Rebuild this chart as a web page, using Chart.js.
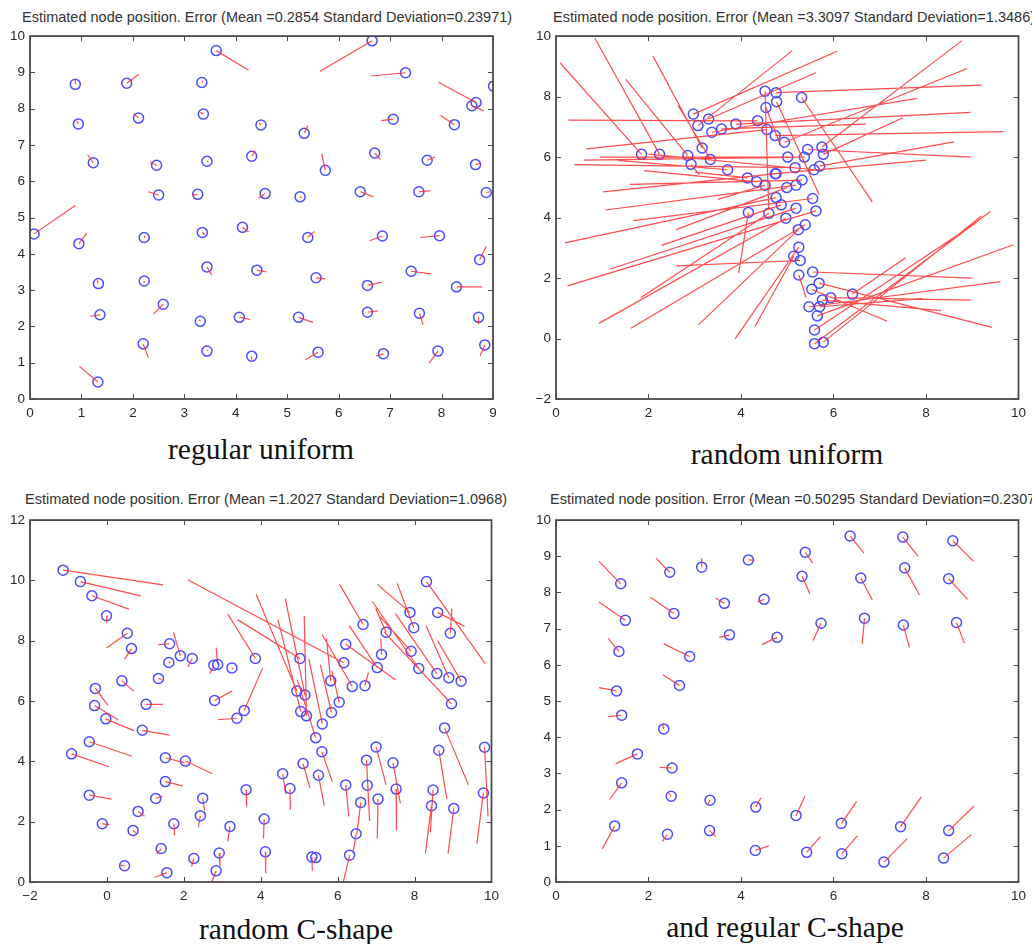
<!DOCTYPE html>
<html>
<head>
<meta charset="utf-8">
<script src="https://cdn.jsdelivr.net/npm/chart.js@4.4.0/dist/chart.umd.min.js"></script>
<style>
  body { margin: 0; background: #fff; width: 1032px; height: 944px; position: relative; overflow: hidden; }
  canvas { position: absolute; }
  .ttl { position: absolute; font-family: "Liberation Sans", Arial, sans-serif; font-size: 14.5px; color: #333; white-space: nowrap; line-height: 15px; }
  .cap { position: absolute; font-family: "Liberation Serif", "Times New Roman", serif; font-size: 29.5px; color: #111; white-space: nowrap; line-height: 30px; transform: translateX(-50%); }
</style>
</head>
<body>

<div class="ttl" id="t1" style="left:22px;top:10px">Estimated node position. Error (Mean =0.2854 Standard Deviation=0.23971)</div>
<div class="ttl" id="t2" style="left:553px;top:10px">Estimated node position. Error (Mean =3.3097 Standard Deviation=1.3486)</div>
<div class="ttl" id="t3" style="left:25px;top:492px">Estimated node position. Error (Mean =1.2027 Standard Deviation=1.0968)</div>
<div class="ttl" id="t4" style="left:550px;top:492px">Estimated node position. Error (Mean =0.50295 Standard Deviation=0.2307)</div>

<canvas id="c1" width="505" height="398" style="left:0px;top:23px"></canvas>
<canvas id="c2" width="506" height="398" style="left:526px;top:23px"></canvas>
<canvas id="c3" width="505" height="397" style="left:0px;top:507px"></canvas>
<canvas id="c4" width="506" height="397" style="left:526px;top:507px"></canvas>

<div class="cap" style="left:261px;top:434px">regular uniform</div>
<div class="cap" style="left:787px;top:439px">random uniform</div>
<div class="cap" style="left:296px;top:914px">random C-shape</div>
<div class="cap" style="left:785px;top:912px">and regular C-shape</div>

<script>
// ===============================
// DONNEES (noeud estimé -> position réelle)
// ===============================

// axes : [min, max, pas]
const regX = [0, 9, 1],  regY = [0, 10, 1];
const randX = [0, 10, 2], randY = [-2, 10, 2];
const randCX = [-2, 10, 2], randCY = [0, 12, 2];
const regCX = [0, 10, 2], regCY = [0, 10, 1];

// regular uniform
const regNodes = [
  [0.88,8.67],[1.88,8.70],[3.34,8.72],[3.62,9.60],[0.94,7.58],[2.11,7.74],[3.37,7.85],[1.23,6.51],
  [2.46,6.44],[3.44,6.55],[4.31,6.69],[2.50,5.62],[3.26,5.64],[4.49,7.55],[6.65,9.87],[7.30,8.99],
  [9.01,8.62],[8.67,8.17],[8.59,8.08],[5.33,7.32],[7.06,7.71],[8.25,7.56],[6.70,6.78],[5.74,6.30],
  [7.72,6.58],[8.66,6.46],[4.57,5.66],[5.25,5.57],[6.42,5.71],[7.56,5.71],[8.87,5.69],[0.08,4.55],
  [0.95,4.28],[2.22,4.45],[3.35,4.59],[4.13,4.73],[1.33,3.18],[2.22,3.25],[3.44,3.64],[4.41,3.55],
  [1.36,2.32],[2.59,2.61],[3.31,2.14],[4.07,2.25],[2.20,1.52],[3.44,1.32],[4.31,1.18],[1.32,0.47],
  [5.40,4.45],[6.85,4.49],[7.96,4.50],[8.74,3.84],[5.56,3.34],[6.56,3.13],[7.41,3.52],[8.29,3.09],
  [5.22,2.25],[6.56,2.39],[7.57,2.36],[8.72,2.25],[5.60,1.29],[6.87,1.25],[7.93,1.32],[8.84,1.49]
];
const regEnds = [
  [0.88,8.79],[2.11,8.94],[3.36,8.76],[4.25,9.06],[0.91,7.67],[2.01,7.87],[3.31,7.90],[1.12,6.73],
  [2.33,6.53],[3.47,6.53],[4.38,6.85],[2.30,5.71],[3.15,5.62],[4.45,7.60],[5.64,9.03],[6.63,8.90],
  [9.00,8.66],[7.94,8.73],[8.82,7.94],[5.40,7.53],[6.83,7.67],[7.98,7.81],[6.81,6.60],[5.67,6.76],
  [7.88,6.67],[8.75,6.49],[4.44,5.53],[5.28,5.55],[6.68,5.57],[7.78,5.74],[8.94,5.71],[0.88,5.33],
  [1.10,4.57],[2.23,4.50],[3.40,4.52],[4.25,4.60],[1.30,3.27],[2.22,3.20],[3.53,3.42],[4.60,3.50],
  [1.17,2.28],[2.40,2.34],[3.29,2.18],[4.28,2.19],[2.30,1.14],[3.45,1.35],[4.31,1.08],[0.96,0.90],
  [5.53,4.62],[6.60,4.36],[7.59,4.45],[8.87,4.21],[5.74,3.31],[6.84,3.22],[7.80,3.45],[8.79,3.09],
  [5.50,2.11],[6.76,2.43],[7.64,2.05],[8.72,2.05],[5.35,1.08],[6.73,1.18],[7.76,0.99],[8.75,1.19]
];

// random uniform
const randNodes = [
  [1.85,6.09],[2.24,6.09],[2.85,6.05],[2.92,5.76],[3.16,6.30],[3.34,5.92],[3.71,5.58],[2.97,7.42],
  [3.07,7.04],[3.30,7.26],[3.37,6.82],[3.58,6.93],[3.89,7.09],[4.36,7.20],[4.52,8.18],[4.54,7.64],
  [4.56,6.91],[4.74,6.71],[4.76,8.13],[4.77,7.83],[5.31,7.97],[4.94,6.49],[5.01,6.00],[5.44,6.25],
  [5.37,6.00],[5.75,6.33],[5.78,6.09],[5.17,5.65],[5.58,5.58],[5.70,5.70],[4.76,5.45],[5.32,5.24],
  [5.19,5.07],[4.99,4.99],[5.55,4.63],[4.76,4.66],[4.87,4.42],[5.19,4.31],[5.62,4.22],[4.14,5.31],
  [4.34,5.18],[4.52,5.07],[4.74,5.45],[4.16,4.17],[4.60,4.14],[4.97,3.98],[5.39,3.76],[5.24,3.60],
  [5.25,3.02],[5.14,2.72],[5.28,2.58],[5.25,2.10],[5.55,2.20],[5.69,1.83],[5.53,1.63],[5.76,1.27],
  [5.94,1.35],[6.41,1.47],[5.47,1.05],[5.70,1.05],[5.65,0.75],[5.59,0.28],[5.59,-0.17],[5.78,-0.12]
];
const randEnds = [
  [0.09,9.11],[0.84,9.93],[1.51,8.57],[3.10,5.42],[2.10,9.33],[2.64,7.71],[1.34,5.89],[6.08,9.50],
  [5.11,9.52],[5.62,8.79],[7.81,7.94],[6.70,7.09],[8.96,7.48],[0.27,7.22],[4.60,4.30],[4.85,6.40],
  [0.66,6.27],[9.68,6.84],[9.21,8.38],[5.69,4.75],[6.84,4.52],[8.89,8.93],[0.95,6.00],[8.98,6.00],
  [0.60,5.90],[8.78,9.85],[7.50,7.30],[0.40,5.75],[2.00,6.10],[8.60,6.50],[1.02,4.85],[1.60,5.10],
  [1.07,4.25],[2.60,3.60],[1.67,3.90],[0.19,3.16],[2.28,3.08],[1.16,2.29],[0.25,1.74],[3.00,5.50],
  [1.90,5.55],[3.50,4.60],[8.00,5.90],[3.95,2.17],[1.83,1.35],[0.93,0.50],[1.62,0.34],[3.08,0.45],
  [3.87,-0.01],[4.30,0.39],[2.60,2.40],[5.41,1.35],[9.00,2.00],[9.43,0.37],[7.16,0.57],[8.33,0.92],
  [8.98,1.27],[7.56,2.67],[9.61,1.88],[7.92,1.32],[9.89,3.10],[9.07,3.81],[9.39,4.20],[9.20,4.05]
];

// random C-shape
const randCNodes = [
  [-1.14,10.34],[-0.69,9.96],[-0.39,9.49],[-0.01,8.83],[0.53,8.25],[0.64,7.74],[1.63,7.90],[1.61,7.28],
  [1.91,7.50],[2.22,7.41],[2.78,7.19],[2.88,7.21],[3.25,7.10],[3.86,7.41],[0.39,6.67],[1.34,6.75],
  [-0.30,6.42],[-0.32,5.85],[-0.03,5.41],[1.02,5.89],[0.92,5.03],[-0.46,4.65],[-0.92,4.25],[1.52,4.12],
  [2.04,4.01],[1.52,3.33],[-0.46,2.88],[1.27,2.77],[0.81,2.34],[-0.12,1.93],[0.68,1.71],[1.74,1.93],
  [2.49,2.78],[2.43,2.20],[3.20,1.84],[3.62,3.06],[4.09,2.09],[1.41,1.11],[0.46,0.54],[1.56,0.31],
  [2.26,0.78],[2.92,0.96],[2.84,0.37],[4.12,1.00],[5.33,0.83],[5.43,0.81],[6.31,0.89],[6.48,1.60],
  [6.60,2.64],[2.80,6.02],[3.38,5.43],[3.57,5.69],[4.94,6.33],[5.15,6.20],[5.04,5.65],[5.19,5.51],
  [5.43,4.78],[5.60,5.24],[5.84,5.62],[6.04,5.96],[6.38,6.48],[6.71,6.51],[5.82,6.67],[5.10,3.93],
  [4.57,3.59],[4.76,3.10],[5.59,4.32],[5.50,3.54],[6.21,3.22],[6.75,4.04],[6.77,3.21],[7.00,4.48],
  [7.05,2.75],[7.44,3.95],[7.52,3.08],[8.48,3.05],[8.44,2.53],[8.63,4.37],[8.78,5.11],[9.02,2.44],
  [8.96,5.91],[9.82,4.47],[9.79,2.95],[9.21,6.66],[5.02,7.41],[6.16,7.27],[8.31,9.96],[7.88,8.94],
  [8.60,8.94],[7.98,8.43],[8.93,8.25],[6.66,8.54],[7.26,8.28],[6.21,7.88],[7.91,7.65],[7.14,7.54],
  [7.03,7.11],[8.11,7.08],[8.58,6.91],[8.89,6.77]
];
const randCEnds = [
  [1.46,9.85],[0.88,9.49],[0.57,9.05],[0.00,8.60],[-0.01,7.76],[0.46,7.39],[1.33,7.86],[1.66,7.30],
  [1.73,8.28],[2.10,7.13],[2.68,6.91],[2.84,7.77],[3.28,7.05],[3.14,8.89],[0.70,6.33],[1.42,6.72],
  [0.03,5.85],[0.29,5.38],[0.70,5.02],[1.46,5.89],[1.63,4.87],[0.65,4.17],[0.05,3.82],[2.02,3.95],
  [2.74,3.59],[1.97,3.19],[0.12,2.75],[1.45,2.85],[0.98,2.18],[0.07,1.90],[0.76,1.62],[1.76,1.55],
  [2.54,2.37],[2.38,1.82],[3.14,1.35],[3.63,2.50],[4.07,1.44],[1.30,0.93],[0.35,0.55],[1.24,0.15],
  [2.20,0.51],[2.94,0.53],[2.73,0.01],[4.13,0.29],[5.34,0.37],[5.40,0.75],[6.15,0.01],[6.40,0.95],
  [6.50,1.60],[3.25,6.33],[2.88,5.38],[4.05,7.10],[3.88,9.54],[4.64,9.40],[4.45,8.70],[5.13,8.83],
  [4.95,6.70],[5.25,7.40],[5.55,7.20],[5.85,7.00],[5.60,8.20],[6.80,6.95],[5.71,8.06],[5.28,3.11],
  [4.65,2.92],[4.77,2.39],[5.86,3.33],[5.65,2.53],[6.29,2.17],[6.83,2.02],[6.80,3.10],[7.26,3.22],
  [7.03,1.44],[7.63,2.61],[7.53,1.71],[8.41,1.65],[8.28,0.94],[8.84,2.75],[9.40,3.22],[8.87,0.94],
  [7.20,8.30],[9.91,2.17],[9.62,1.27],[8.60,8.00],[3.40,8.70],[2.10,10.02],[9.84,7.24],[7.03,9.87],
  [9.30,8.48],[7.55,9.90],[8.97,9.07],[6.05,9.87],[6.99,9.07],[7.51,6.70],[7.10,8.80],[7.12,8.06],
  [6.30,8.50],[6.90,9.30],[7.50,8.90],[8.30,8.50]
];

// regular C-shape
const regCNodes = [
  [1.40,8.24],[2.46,8.56],[3.15,8.70],[4.16,8.90],[5.39,9.11],[6.36,9.56],[7.50,9.53],[8.58,9.43],
  [1.50,7.23],[2.55,7.42],[3.64,7.70],[4.50,7.81],[5.32,8.45],[6.59,8.40],[7.54,8.68],[8.49,8.38],
  [1.36,6.37],[2.89,6.23],[3.75,6.83],[4.78,6.76],[5.73,7.15],[6.67,7.29],[7.51,7.10],[8.66,7.17],
  [1.31,5.28],[2.67,5.43],[1.42,4.61],[2.33,4.23],[1.76,3.54],[2.51,3.15],[1.42,2.74],[2.49,2.37],
  [3.33,2.26],[4.32,2.07],[5.19,1.84],[6.17,1.62],[7.45,1.53],[8.49,1.42],[1.27,1.55],[2.41,1.32],
  [3.32,1.42],[4.31,0.87],[5.42,0.82],[6.18,0.78],[7.09,0.55],[8.38,0.66]
];
const regCEnds = [
  [0.93,8.86],[2.16,8.95],[3.15,8.95],[4.29,8.89],[5.55,8.81],[6.66,9.09],[7.83,9.00],[9.03,8.86],
  [0.93,7.74],[2.04,7.87],[3.45,7.84],[4.36,7.74],[5.49,7.96],[6.84,7.79],[7.86,7.93],[8.90,7.81],
  [1.13,6.73],[2.33,6.58],[3.53,6.76],[4.45,6.56],[5.56,6.67],[6.62,6.58],[7.64,6.48],[8.83,6.60],
  [0.93,5.37],[2.31,5.73],[1.13,4.57],[2.30,4.37],[1.29,3.27],[2.24,3.17],[1.16,2.28],[2.44,2.46],
  [3.28,2.15],[4.43,2.33],[5.38,2.37],[6.50,2.22],[7.90,2.35],[9.04,2.10],[1.00,0.91],[2.30,1.12],
  [3.45,1.26],[4.60,1.00],[5.72,1.26],[6.52,1.28],[7.59,1.19],[8.98,1.31]
];

// ===============================
// GRAPHIQUES
// ===============================

const red = 'rgba(255,45,45,0.85)';
const blue = '#4d4dff';
const tickFont = { family: '"Liberation Sans", Arial, sans-serif', size: 13.5 };

// cadre + graduations vers l'intérieur (style matlab)
const boxFrame = {
  id: 'boxFrame',
  afterDatasetsDraw(chart) {
    const { ctx, chartArea: a, scales: { x, y } } = chart;
    ctx.save();
    ctx.strokeStyle = '#4a4a4a';
    ctx.lineWidth = 1;
    ctx.beginPath();
    x.ticks.forEach(t => {
      const px = Math.round(x.getPixelForValue(t.value)) + 0.5;
      ctx.moveTo(px, a.bottom); ctx.lineTo(px, a.bottom - 5);
      ctx.moveTo(px, a.top); ctx.lineTo(px, a.top + 5);
    });
    y.ticks.forEach(t => {
      const py = Math.round(y.getPixelForValue(t.value)) + 0.5;
      ctx.moveTo(a.left, py); ctx.lineTo(a.left + 5, py);
      ctx.moveTo(a.right, py); ctx.lineTo(a.right - 5, py);
    });
    ctx.stroke();
    ctx.lineWidth = 1.8;
    ctx.strokeRect(a.left, a.top, a.right - a.left, a.bottom - a.top);
    ctx.restore();
  }
};

function fmt(v) {
  return v < 0 ? '\u2212' + Math.abs(v) : String(v);
}

function makeChart(id, nodes, ends, xr, yr) {
  const segs = [];
  nodes.forEach((p, i) => {
    segs.push({ x: p[0], y: p[1] }, { x: ends[i][0], y: ends[i][1] }, { x: p[0], y: null });
  });
  new Chart(document.getElementById(id), {
    type: 'scatter',
    data: {
      datasets: [
        { data: segs, showLine: true, spanGaps: false, borderColor: red, borderWidth: 1.2, pointRadius: 0 },
        { data: nodes.map(p => ({ x: p[0], y: p[1] })), pointRadius: 5, pointBorderWidth: 1.5,
          pointBorderColor: blue, pointBackgroundColor: 'rgba(0,0,0,0)' }
      ]
    },
    options: {
      responsive: false,
      animation: false,
      events: [],
      layout: { padding: { top: 10, right: 12, left: 0, bottom: 0 } },
      plugins: { legend: { display: false }, tooltip: { enabled: false } },
      scales: {
        x: {
          type: 'linear', min: xr[0], max: xr[1],
          grid: { display: false, drawTicks: false }, border: { display: false },
          ticks: { stepSize: xr[2], autoSkip: false, maxRotation: 0, padding: 6, color: '#2a2a2a', font: tickFont, callback: fmt },
          afterFit: s => { s.height = 22; }
        },
        y: {
          type: 'linear', min: yr[0], max: yr[1],
          grid: { display: false, drawTicks: false }, border: { display: false },
          ticks: { stepSize: yr[2], autoSkip: false, padding: 5, color: '#2a2a2a', font: tickFont, callback: fmt },
          afterFit: s => { s.width = 30; }
        }
      }
    },
    plugins: [boxFrame]
  });
}

makeChart('c1', regNodes, regEnds, regX, regY);
makeChart('c2', randNodes, randEnds, randX, randY);
makeChart('c3', randCNodes, randCEnds, randCX, randCY);
makeChart('c4', regCNodes, regCEnds, regCX, regCY);
</script>
</body>
</html>
